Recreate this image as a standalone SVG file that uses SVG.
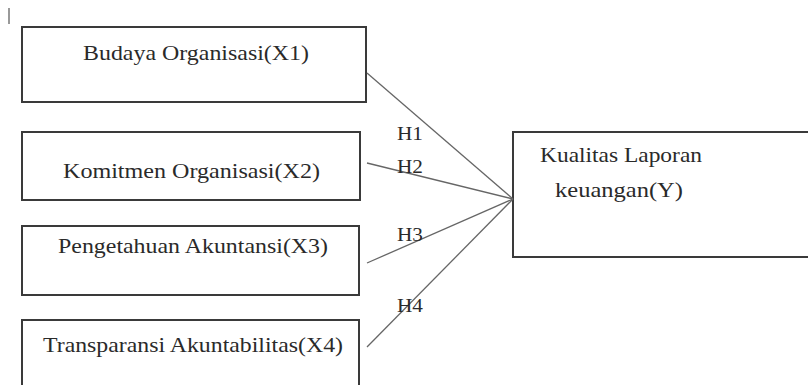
<svg xmlns="http://www.w3.org/2000/svg" width="808" height="385" viewBox="0 0 808 385">
<style>
.box{fill:#fff;stroke:#3a3a3a;stroke-width:2}
.t{font-family:'Liberation Serif', 'Times New Roman', Times, serif;font-size:22px;fill:#2a2a2a}
.h{font-family:'Liberation Serif', 'Times New Roman', Times, serif;font-size:19px;fill:#2a2a2a}
.c{stroke:#666;stroke-width:1.3;fill:none}
</style>
<rect width="808" height="385" fill="#fff"/>
<line x1="9" y1="8" x2="9" y2="24" stroke="#777" stroke-width="1.5"/>
<g id="x1"><rect class="box" x="22" y="27" width="344" height="75"/><text class="t" x="83" y="60" font-family="Liberation Serif" textLength="226" lengthAdjust="spacingAndGlyphs">Budaya Organisasi(X1)</text></g>
<g id="x2"><rect class="box" x="22" y="132" width="338" height="68"/><text class="t" x="63" y="178" textLength="257" lengthAdjust="spacingAndGlyphs">Komitmen Organisasi(X2)</text></g>
<g id="x3"><rect class="box" x="22" y="226" width="337" height="69"/><text class="t" x="58" y="253" textLength="270" lengthAdjust="spacingAndGlyphs">Pengetahuan Akuntansi(X3)</text></g>
<g id="x4"><rect class="box" x="22" y="320" width="337" height="90"/><text class="t" x="43" y="352" textLength="300" lengthAdjust="spacingAndGlyphs">Transparansi Akuntabilitas(X4)</text></g>
<g id="y"><rect class="box" x="513" y="132" width="310" height="125"/><text class="t" x="540" y="162" textLength="162" lengthAdjust="spacingAndGlyphs">Kualitas Laporan</text><text class="t" x="555" y="197" textLength="128" lengthAdjust="spacingAndGlyphs">keuangan(Y)</text></g>
<g id="connectors">
<line class="c" x1="367" y1="73" x2="513" y2="199"/>
<line class="c" x1="367" y1="163" x2="513" y2="199"/>
<line class="c" x1="367" y1="263" x2="513" y2="199"/>
<line class="c" x1="367" y1="347" x2="513" y2="199"/>
<text class="h" x="397" y="140" textLength="26" lengthAdjust="spacingAndGlyphs">H1</text>
<text class="h" x="397" y="173" textLength="26" lengthAdjust="spacingAndGlyphs">H2</text>
<text class="h" x="397" y="241" textLength="26" lengthAdjust="spacingAndGlyphs">H3</text>
<text class="h" x="397" y="312" textLength="26" lengthAdjust="spacingAndGlyphs">H4</text>
</g>
</svg>
